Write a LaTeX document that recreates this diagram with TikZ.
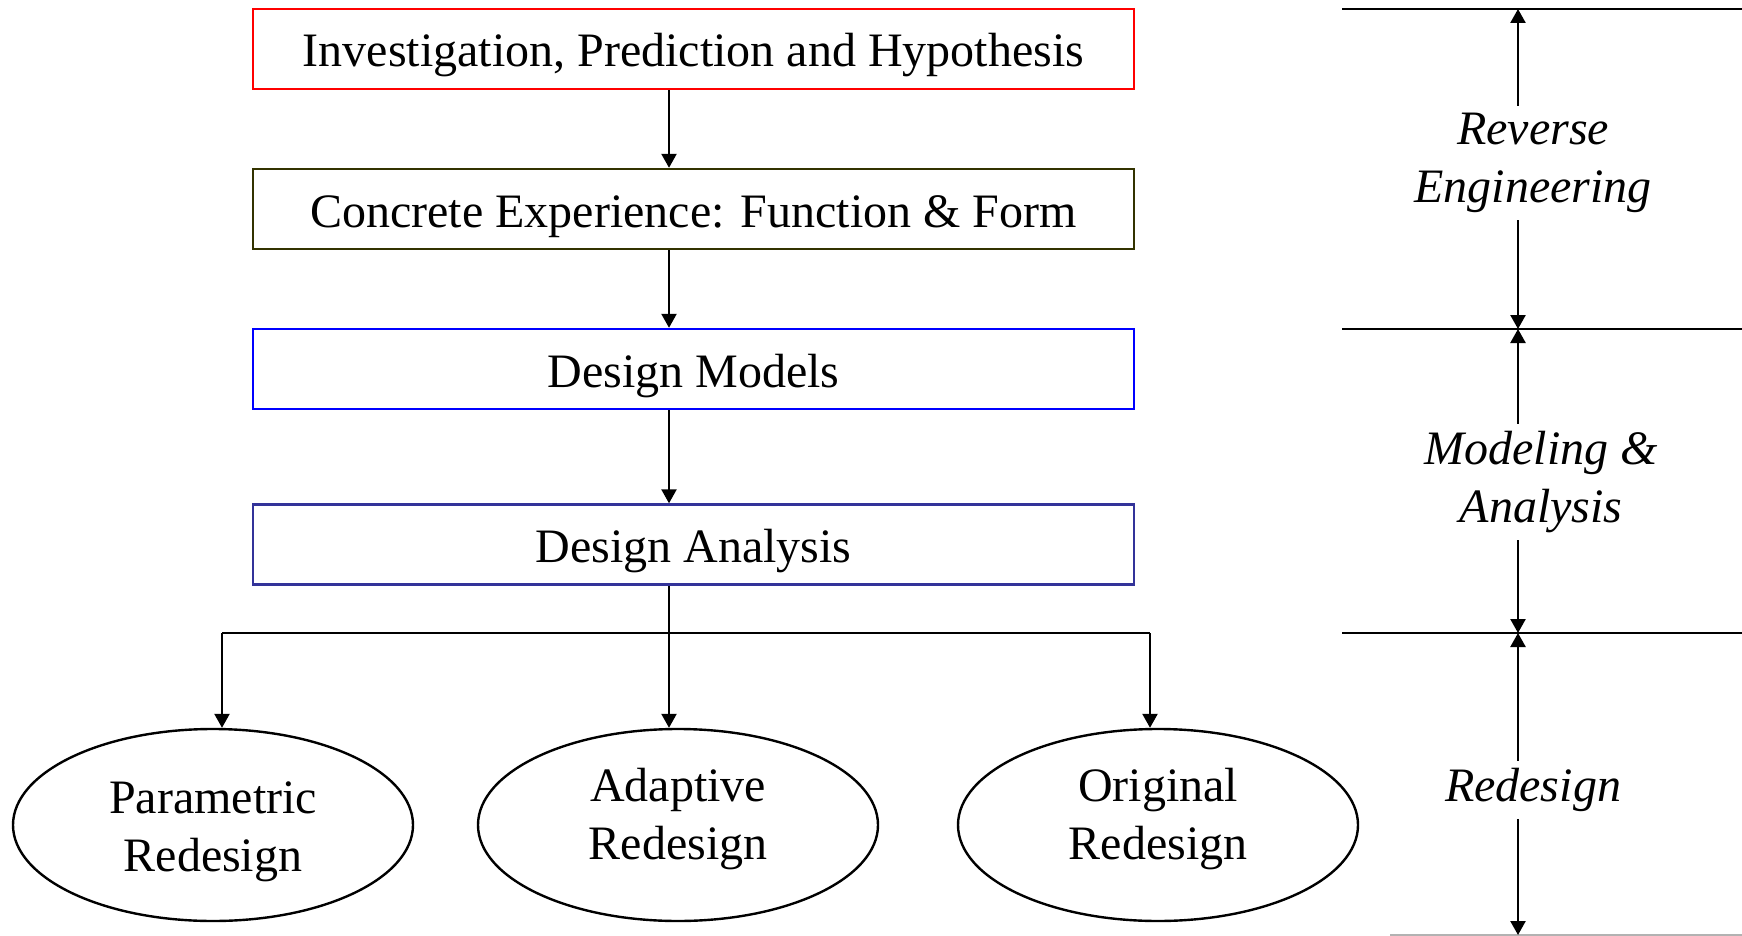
\documentclass[tikz,border=0pt]{standalone}
\usepackage{fontspec}
\setmainfont{Liberation Serif}
\usepackage{tikz}
\usetikzlibrary{shapes.geometric, arrows.meta}

\definecolor{olivebox}{RGB}{51,51,0}
\definecolor{navybox}{RGB}{51,51,153}

\begin{document}
\begin{tikzpicture}[x=1pt, y=-1pt,
					->,
					>={Triangle[width=15pt, length=14pt]},
					line width=2.4pt,
					font=\fontsize{48}{58}\selectfont,
					stage/.style={draw, -, line width=2.4pt, minimum width=881pt, minimum height=80pt, inner sep=0pt, text height=36pt, text depth=0pt},
					outcome/.style={ellipse, draw, -, line width=2.4pt, minimum width=400pt, minimum height=192pt, inner sep=0pt, align=center, text depth=10pt},
					phase/.style={font=\fontsize{48}{58}\selectfont\itshape, align=center, inner sep=6pt}]

	\useasboundingbox (0,0) rectangle (1742,936);

	\node[stage, draw=red] (inv) at (693.5,49)  {Investigation, Prediction and Hypothesis};
	\node[stage, draw=olivebox] (exp) at (693.5,209)  {Concrete Experience: Function \& Form};
	\node[stage, draw=blue] (mod) at (693.5,369)  {Design Models};
	\node[stage, draw=navybox] (ana) at (693.5,544.5)  {Design Analysis};

	\node[outcome, text height=102pt] (par) at (213,825)  {Parametric\\Redesign};
	\node[outcome, text height=78pt] (adp) at (678,825)  {Adaptive\\Redesign};
	\node[outcome, text height=78pt] (org) at (1158,825)  {Original\\Redesign};

	\coordinate (sp) at (669,0);
	\coordinate (bl) at (222,633);
	\coordinate (bm) at (669,633);
	\coordinate (br) at (1150,633);

	\draw	(inv.south -| sp) -- (exp.north -| sp);
	\draw	(exp.south -| sp) -- (mod.north -| sp);
	\draw	(mod.south -| sp) -- (ana.north -| sp);
	\draw[-] (ana.south -| sp) -- (bm);
	\draw[-] (bl) -- (br);
	\draw	(bl) -- (bl |- par.north);
	\draw	(bm) -- (bm |- adp.north);
	\draw	(br) -- (br |- org.north);

	% phases on the right
	\coordinate (ax) at (1518,0);
	\coordinate (l1) at (1342,9);
	\coordinate (l2) at (1342,329);
	\coordinate (l3) at (1342,633);
	\coordinate (l4) at (1390,935);
	\draw[-] (l1) -- ++(400,0);
	\draw[-] (l2) -- ++(400,0);
	\draw[-] (l3) -- ++(400,0);
	\draw[-, gray!60, line width=1.5pt] (l4) -- ++(352,0);

	\node[phase] (rev) at (1533,163)  {Reverse\\Engineering};
	\node[phase] (mda) at (1541,482)  {Modeling \&\\Analysis};
	\node[phase] (red) at (1533,790)  {Redesign};

	\draw	(rev.north -| ax) -- (ax |- l1);
	\draw	(rev.south -| ax) -- (ax |- l2);
	\draw	(mda.north -| ax) -- (ax |- l2);
	\draw	(mda.south -| ax) -- (ax |- l3);
	\draw	(red.north -| ax) -- (ax |- l3);
	\draw	(red.south -| ax) -- (ax |- l4);
\end{tikzpicture}
\end{document}
